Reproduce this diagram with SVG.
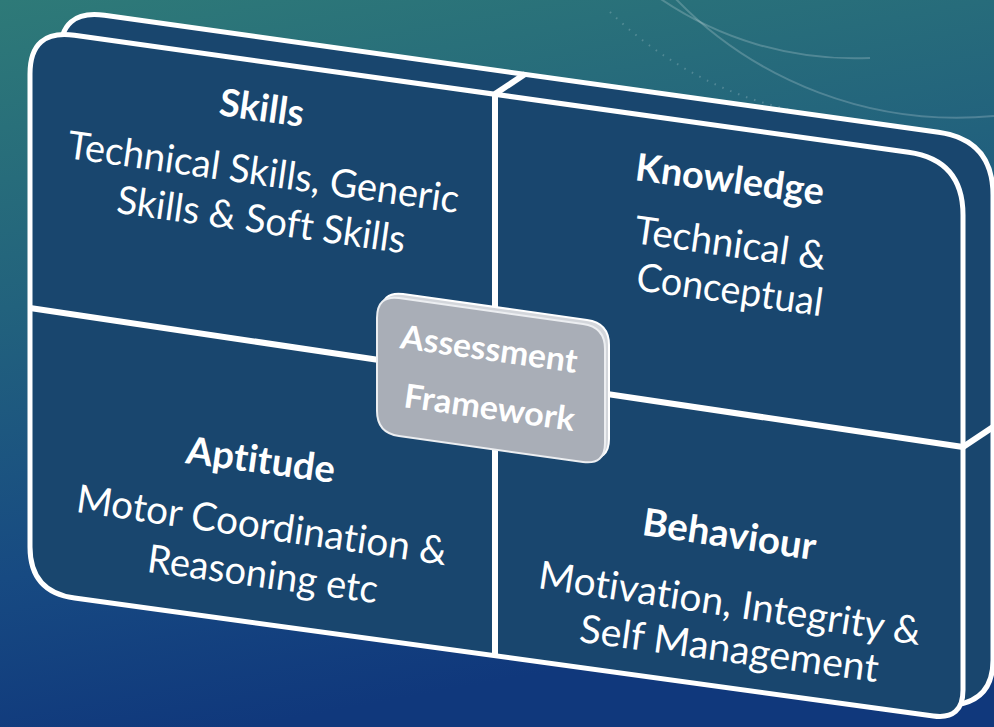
<svg xmlns="http://www.w3.org/2000/svg" width="994" height="727" viewBox="0 0 994 727">
  <defs>
    <linearGradient id="bg" x1="0" y1="0" x2="0.25" y2="1">
      <stop offset="0" stop-color="#2e7a78"/>
      <stop offset="0.4" stop-color="#22627d"/>
      <stop offset="0.75" stop-color="#174a82"/>
      <stop offset="1" stop-color="#10387c"/>
    </linearGradient>
    <path id="face" d="M30,74 Q30,29 74.5,35.3 L908.5,152.3 Q963,160 963,215 L963,690 Q963,720 933.3,715.9 L74.6,598.1 Q30,592 30,547 Z"/>
    <path id="gbox" d="M377,318 Q377,295 399,298 L583,324 Q605,327 605,349 L605,443 Q605,465 583,462 L399,436 Q377,433 377,411 Z"/>
  </defs>
  <style>
    text { font-variant-ligatures: none; font-feature-settings: "liga" 0, "clig" 0, "dlig" 0; }
    .face { fill: #19466e; stroke: #ffffff; stroke-width: 5; stroke-linejoin: round; }
    .div { stroke: #ffffff; stroke-width: 6; fill: none; stroke-linecap: butt; }
    .title { font-family: Lato, "Noto Sans", sans-serif; font-weight: bold; font-size: 38px; fill: #ffffff; text-anchor: middle; }
    .body { font-family: Lato, "Noto Sans", sans-serif; font-size: 39px; fill: #ffffff; text-anchor: middle; }
    .left { text-anchor: start; }
    .gtext { font-family: Lato, "Noto Sans", sans-serif; font-weight: bold; font-size: 33px; fill: #ffffff; text-anchor: middle; }
    .deco { fill: none; stroke: #ffffff; stroke-opacity: 0.2; stroke-width: 2; }
  </style>

  <rect width="994" height="727" fill="url(#bg)"/>
  <g id="background-decoration">
    <path class="deco" d="M655,-5 A345,345 0 0 0 870,58"/>
    <path class="deco" d="M672,-5 A393,393 0 0 0 994,116"/>
    <path class="deco" d="M610,12 A380,380 0 0 0 800,112" stroke-width="10" stroke-dasharray="1.5 7" stroke-opacity="0.14"/>
  </g>

  <g id="box">
    <path class="face" d="M60,54 Q60,9 104.5,15.3 L938.5,132.3 Q993,140 993,195 L993,660 Q993,700 955,705 L104.6,578.1 Q60,572 60,527 Z"/>
    <use href="#face" class="face"/>
  </g>

  <g id="connectors">
    <line class="div" x1="495" y1="94" x2="495" y2="656"/>
    <line class="div" x1="30" y1="308" x2="963" y2="447"/>
    <line class="div" x1="495" y1="94" x2="525" y2="74"/>
    <line class="div" x1="963" y1="447" x2="993" y2="427"/>
  </g>

  <g id="skills">
    <text class="title" x="260" y="121" transform="rotate(8 260 121)" textLength="85" lengthAdjust="spacingAndGlyphs">Skills</text>
    <text class="body" x="261.5" y="185.5" transform="rotate(8 261.5 185.5)" textLength="395" lengthAdjust="spacingAndGlyphs">Technical Skills, Generic</text>
    <text class="body" x="259.5" y="233" transform="rotate(8 259.5 233)" textLength="291" lengthAdjust="spacingAndGlyphs">Skills &amp; Soft Skills</text>
  </g>

  <g id="knowledge">
    <text class="title left" x="634" y="180" transform="rotate(7.5 634 180)" textLength="190" lengthAdjust="spacingAndGlyphs">Knowledge</text>
    <text class="body left" x="633" y="243" transform="rotate(8 633 243)" textLength="193" lengthAdjust="spacingAndGlyphs">Technical &amp;</text>
    <text class="body left" x="635" y="290" transform="rotate(8 635 290)" textLength="188" lengthAdjust="spacingAndGlyphs">Conceptual</text>
  </g>

  <g id="aptitude">
    <text class="title" x="259" y="473" transform="rotate(7.7 259 473)" textLength="150" lengthAdjust="spacingAndGlyphs">Aptitude</text>
    <text class="body" x="260" y="538.5" transform="rotate(8.2 260 538.5)" textLength="374" lengthAdjust="spacingAndGlyphs">Motor Coordination &amp;</text>
    <text class="body" x="261" y="587.5" transform="rotate(7.8 261 587.5)" textLength="232" lengthAdjust="spacingAndGlyphs">Reasoning etc</text>
  </g>

  <g id="behaviour">
    <text class="title" x="727.5" y="547.5" transform="rotate(8.3 727.5 547.5)" textLength="175" lengthAdjust="spacingAndGlyphs">Behaviour</text>
    <text class="body" x="728" y="616.5" transform="rotate(8.5 728 616.5)" textLength="386" lengthAdjust="spacingAndGlyphs">Motivation, Integrity &amp;</text>
    <text class="body" x="727.5" y="662" transform="rotate(7.7 727.5 662)" textLength="301" lengthAdjust="spacingAndGlyphs">Self Management</text>
  </g>

  <g id="assessment-framework">
    <use href="#gbox" fill="#d3d6db" stroke="#ffffff" stroke-width="2" transform="translate(4,-4)"/>
    <use href="#gbox" fill="#a9aeb7" stroke="#eceef1" stroke-width="2"/>
    <text class="gtext" x="487.5" y="360.5" transform="rotate(8 487.5 360.5)" textLength="178" lengthAdjust="spacingAndGlyphs">Assessment</text>
    <text class="gtext" x="488" y="419" transform="rotate(8 488 419)" textLength="172" lengthAdjust="spacingAndGlyphs">Framework</text>
  </g>
</svg>
